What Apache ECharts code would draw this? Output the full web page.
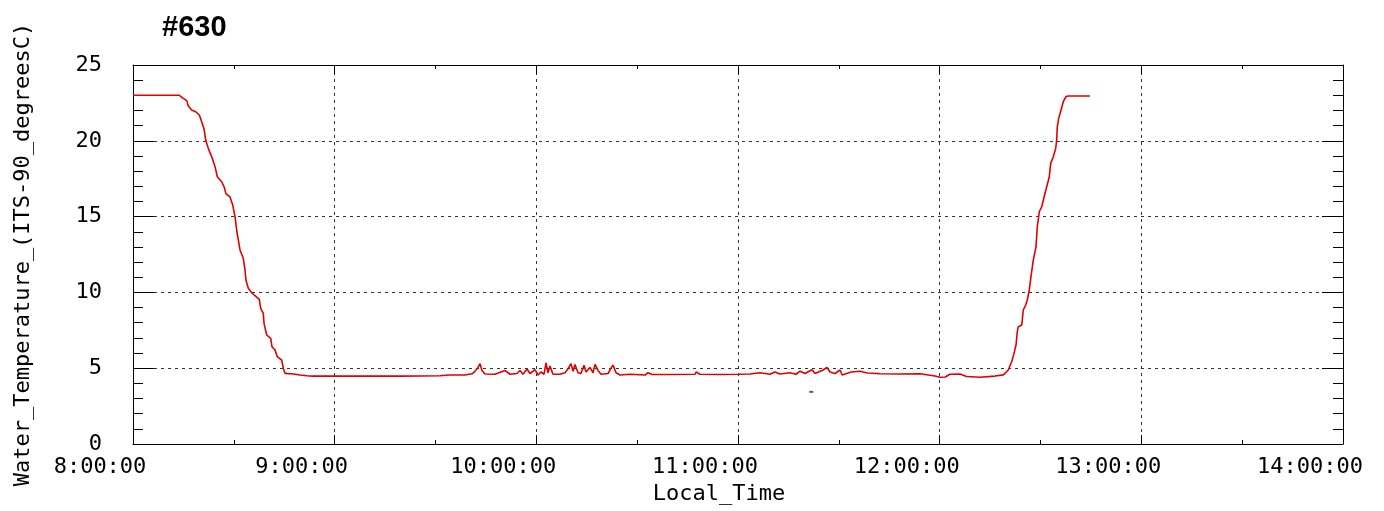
<!DOCTYPE html>
<html>
<head>
<meta charset="utf-8">
<script src="https://cdn.jsdelivr.net/npm/echarts@6/dist/echarts.min.js"></script>
<style>
html,body{margin:0;padding:0;background:#fff;}
#chart{width:1384px;height:511px;}
</style>
</head>
<body>
<div id="chart"></div>
<script>
// ---- data ----
const chartTitle = '#630';
const xAxisName = 'Local_Time';
const yAxisName = 'Water_Temperature_(ITS-90_degreesC)';
const xTickLabels = ['8:00:00','9:00:00','10:00:00','11:00:00','12:00:00','13:00:00','14:00:00'];
const yTickLabels = ['0','5','10','15','20','25'];

const sampleTimes = [
 '8:00:00','8:13:47','8:14:58','8:15:59','8:16:27','8:17:28','8:18:45','8:19:44','8:20:26','8:21:07',
 '8:21:38','8:22:24','8:23:25','8:24:24','8:25:05','8:26:23','8:27:10','8:27:40','8:28:52','8:29:40',
 '8:30:21','8:30:51','8:31:20','8:31:50','8:32:49','8:33:19','8:33:37','8:34:18','8:35:19','8:36:18',
 '8:37:35','8:37:59','8:38:46','8:38:59','8:39:47','8:40:58','8:41:21','8:42:15','8:42:56','8:44:14',
 '8:44:43','8:45:13','8:47:41','8:49:41','8:51:41','8:53:30','9:00:00','9:19:27','9:31:20','9:34:00',
 '9:38:46','9:40:52','9:41:40','9:42:39','9:43:14','9:43:50','9:44:44','9:47:42','9:50:40','9:52:10',
 '9:54:15','9:55:08','9:56:02','9:57:13','9:58:07','9:59:36','10:00:30','10:01:23','10:02:17','10:02:53',
 '10:03:28','10:04:04','10:04:57','10:07:02','10:08:31','10:09:25','10:10:19','10:10:55','10:11:30','10:12:24',
 '10:13:17','10:14:11','10:14:47','10:15:58','10:16:52','10:17:28','10:18:21','10:19:15','10:21:20','10:22:13',
 '10:22:49','10:23:43','10:24:54','10:27:53','10:32:21','10:33:14','10:34:26','10:39:47','10:47:13','10:47:31',
 '10:48:42','10:54:39','11:00:00','11:03:34','11:06:32','11:09:31','11:11:00','11:12:29','11:15:28','11:17:15',
 '11:18:27','11:19:56','11:22:01','11:22:55','11:25:00','11:26:29','11:27:23','11:28:52','11:30:21','11:31:00',
 '11:33:40','11:36:18','11:38:30','11:40:00','11:42:15','11:48:12','11:54:09','11:58:37','12:00:06','12:01:40',
 '12:03:04','12:06:03','12:08:02','12:12:00','12:16:28','12:18:56','12:20:25','12:21:26','12:22:07','12:22:43',
 '12:23:06','12:23:24','12:24:25','12:24:53','12:25:36','12:26:04','12:26:40','12:27:10','12:27:52','12:28:40',
 '12:29:03','12:29:39','12:30:22','12:31:20','12:31:51','12:32:37','12:33:02','12:33:49','12:34:31','12:34:49',
 '12:35:00','12:35:25','12:36:06','12:36:47','12:37:35','12:38:16','12:44:44'
];
const waterTemps = [
 23.00,23.00,22.80,22.65,22.30,22.03,21.90,21.70,21.26,20.80,
 20.05,19.50,18.95,18.30,17.63,17.30,16.93,16.50,16.30,15.77,
 15.00,14.10,13.46,12.80,12.25,11.48,10.80,10.27,9.98,9.78,
 9.54,8.95,8.62,7.96,7.19,6.97,6.42,6.20,5.76,5.54,
 5.00,4.66,4.62,4.55,4.50,4.48,4.48,4.48,4.50,4.55,
 4.55,4.63,4.78,5.05,5.30,4.85,4.62,4.60,4.85,4.60,
 4.65,4.85,4.60,4.95,4.65,4.90,4.55,4.75,4.60,5.35,
 4.70,5.15,4.60,4.60,4.70,4.95,5.30,4.80,5.25,4.70,
 4.65,5.20,4.75,5.05,4.70,5.25,4.85,4.60,4.65,5.00,
 5.20,4.70,4.55,4.60,4.55,4.70,4.58,4.58,4.60,4.75,
 4.60,4.58,4.60,4.62,4.70,4.60,4.75,4.62,4.70,4.60,
 4.80,4.65,4.90,4.65,4.85,5.05,4.75,4.65,4.88,4.55,
 4.75,4.80,4.68,4.67,4.63,4.62,4.63,4.48,4.40,4.42,
 4.60,4.62,4.45,4.40,4.48,4.56,4.88,5.43,5.98,6.53,
 7.41,7.74,7.85,8.84,9.17,9.50,10.16,11.04,12.14,13.01,
 14.33,15.32,15.65,16.54,16.97,17.63,18.51,18.95,19.50,20.05,
 20.93,21.48,22.03,22.58,22.92,22.96,22.96
];
// isolated sample drawn in dark grey
const strayTimes = ['11:21:48'];
const strayTemps = [3.44];

function toHours(s){ const p = s.split(':').map(Number); return p[0] + p[1]/60 + p[2]/3600; }
const lineData = sampleTimes.map((t,i) => [toHours(t), waterTemps[i]]);
const strayData = strayTimes.map((t,i) => [toHours(t), strayTemps[i]]);

const monoFont = "'DejaVu Sans Mono', 'Liberation Mono', monospace";
const gridDash = {show:true, lineStyle:{color:'#333333', width:1, type:[3,4]}};

const chart = echarts.init(document.getElementById('chart'), null, {renderer:'canvas'});
chart.setOption({
  animation:false,
  backgroundColor:'#ffffff',
  title:{
    text: chartTitle, left:157, top:8,
    textStyle:{fontFamily:"'Liberation Sans', Arial, sans-serif", fontWeight:'bold', fontSize:29, color:'#000'}
  },
  grid:{left:133, right:41, top:65, bottom:67, containLabel:false},
  xAxis:[{
    type:'value', min:8, max:14, interval:1, position:'bottom',
    name:xAxisName, nameLocation:'middle', nameGap:36,
    nameTextStyle:{fontFamily:monoFont, fontSize:22, color:'#000', padding:[0,38,0,0]},
    axisLine:{show:true, onZero:false, lineStyle:{color:'#000', width:1}},
    axisTick:{show:true, inside:true, length:9, lineStyle:{color:'#000'}},
    minorTick:{show:true, splitNumber:2, length:4, lineStyle:{color:'#000'}},
    splitLine:gridDash,
    axisLabel:{show:true, margin:12, fontFamily:monoFont, fontSize:22, color:'#000', padding:[0,66,0,0],
      formatter:(v) => xTickLabels[Math.round(v - 8)]}
  },{
    type:'value', min:8, max:14, interval:1, position:'top',
    axisLine:{show:true, onZero:false, lineStyle:{color:'#000', width:1}},
    axisTick:{show:true, inside:true, length:9, lineStyle:{color:'#000'}},
    minorTick:{show:true, splitNumber:2, length:4, lineStyle:{color:'#000'}},
    splitLine:{show:false}, axisLabel:{show:false}
  }],
  yAxis:[{
    type:'value', min:0, max:25, interval:5, position:'left',
    name:yAxisName, nameLocation:'middle', nameGap:99,
    nameTextStyle:{fontFamily:monoFont, fontSize:22, color:'#000'},
    axisLine:{show:true, onZero:false, lineStyle:{color:'#000', width:1}},
    axisTick:{show:true, inside:true, length:21, lineStyle:{color:'#000'}},
    minorTick:{show:true, splitNumber:5, length:10, lineStyle:{color:'#000'}},
    splitLine:gridDash,
    axisLabel:{show:true, margin:31, fontFamily:monoFont, fontSize:22, color:'#000', padding:[0,0,10,0],
      formatter:(v) => yTickLabels[Math.round(v / 5)]}
  },{
    type:'value', min:0, max:25, interval:5, position:'right',
    axisLine:{show:true, onZero:false, lineStyle:{color:'#000', width:1}},
    axisTick:{show:true, inside:true, length:21, lineStyle:{color:'#000'}},
    minorTick:{show:true, splitNumber:5, length:10, lineStyle:{color:'#000'}},
    splitLine:{show:false}, axisLabel:{show:false}
  }],
  series:[{
    type:'line', xAxisIndex:0, yAxisIndex:0, data:lineData,
    showSymbol:false, symbol:'none',
    lineStyle:{color:'#e00000', width:1.6}, z:5
  },{
    type:'scatter', xAxisIndex:0, yAxisIndex:0, data:strayData,
    symbol:'rect', symbolSize:[4,2], itemStyle:{color:'#333'}, z:4
  }]
});
</script>
</body>
</html>
